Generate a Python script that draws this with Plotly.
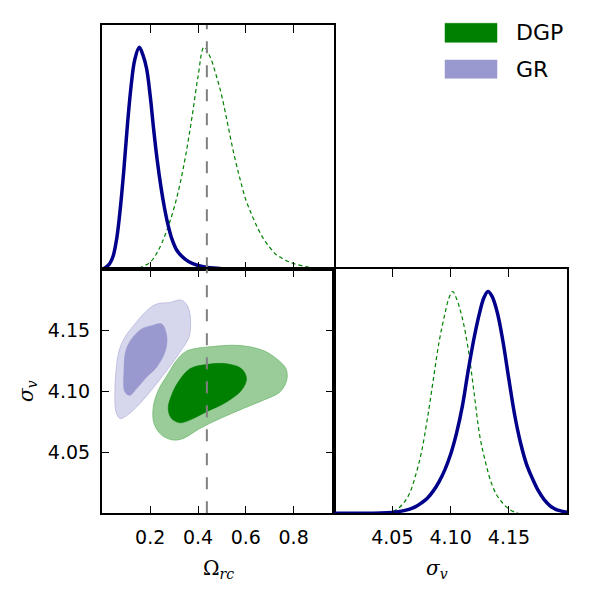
import plotly.graph_objects as go

# ---------------- data ----------------
# 1D marginal of Omega_rc (peak-normalised)
gr_om_x = [0.000, 0.015, 0.030, 0.045, 0.060, 0.075, 0.090, 0.105, 0.120, 0.135, 0.1541,
           0.170, 0.185, 0.200, 0.215, 0.230, 0.245, 0.260, 0.275, 0.290, 0.310, 0.330,
           0.360, 0.400, 0.440, 0.500, 0.600]
gr_om_p = [0.000, 0.010, 0.025, 0.060, 0.140, 0.276, 0.452, 0.655, 0.825, 0.942, 1.000,
           0.963, 0.903, 0.780, 0.624, 0.485, 0.370, 0.275, 0.198, 0.139, 0.088, 0.061,
           0.035, 0.017, 0.008, 0.003, 0.001]
dgp_om_x = [0.125, 0.150, 0.175, 0.200, 0.225, 0.250, 0.275, 0.300, 0.325, 0.350, 0.375,
            0.400, 0.425, 0.450, 0.475, 0.500, 0.525, 0.550, 0.575, 0.600, 0.625, 0.650,
            0.675, 0.700, 0.725, 0.750, 0.775, 0.800, 0.850, 0.900, 0.930]
dgp_om_p = [0.000, 0.005, 0.016, 0.032, 0.068, 0.122, 0.192, 0.277, 0.386, 0.523, 0.686,
            0.868, 1.000, 0.958, 0.877, 0.778, 0.649, 0.520, 0.410, 0.313, 0.245, 0.185,
            0.136, 0.099, 0.068, 0.051, 0.036, 0.026, 0.012, 0.004, 0.000]

# 1D marginal of sigma_v (peak-normalised)
gr_sv_x = [4.000, 4.020, 4.040, 4.050, 4.060, 4.065, 4.070, 4.075, 4.080, 4.085, 4.090,
           4.095, 4.100, 4.105, 4.110, 4.115, 4.120, 4.125, 4.1285, 4.132, 4.1355, 4.140,
           4.145, 4.150, 4.155, 4.160, 4.165, 4.170, 4.175, 4.180, 4.185, 4.190, 4.195, 4.200]
gr_sv_p = [0.000, 0.000, 0.001, 0.004, 0.012, 0.019, 0.030, 0.047, 0.068, 0.100, 0.142,
           0.196, 0.266, 0.360, 0.482, 0.642, 0.788, 0.908, 0.972, 1.000, 0.978, 0.905,
           0.770, 0.601, 0.440, 0.316, 0.222, 0.158, 0.103, 0.063, 0.035, 0.018, 0.010, 0.005]
dgp_sv_x = [4.045, 4.050, 4.055, 4.060, 4.065, 4.070, 4.075, 4.080, 4.085, 4.090, 4.095,
            4.0985, 4.1017, 4.105, 4.110, 4.115, 4.120, 4.125, 4.130, 4.135, 4.140, 4.145,
            4.150, 4.155, 4.158]
dgp_sv_p = [0.000, 0.006, 0.022, 0.048, 0.092, 0.172, 0.276, 0.425, 0.598, 0.770, 0.898,
            0.970, 1.000, 0.968, 0.880, 0.742, 0.547, 0.348, 0.228, 0.135, 0.078, 0.044,
            0.019, 0.005, 0.000]

# 2D contours (Omega_rc, sigma_v)
gr_outer_x = [0.227, 0.282, 0.331, 0.359, 0.369, 0.362, 0.324, 0.269, 0.199, 0.143,
              0.094, 0.073, 0.057, 0.052, 0.057, 0.070, 0.094, 0.136, 0.185]
gr_outer_y = [4.1715, 4.1728, 4.1747, 4.1688, 4.1552, 4.1443, 4.1321, 4.1171, 4.0995, 4.0872,
              4.0791, 4.0777, 4.0832, 4.0981, 4.1171, 4.1334, 4.1443, 4.1552, 4.1660]
gr_inner_x = [0.206, 0.248, 0.269, 0.264, 0.227, 0.185, 0.143, 0.115, 0.094, 0.090,
              0.098, 0.122, 0.164]
gr_inner_y = [4.1538, 4.1552, 4.1457, 4.1334, 4.1198, 4.1117, 4.1022, 4.0967, 4.0995, 4.1171,
              4.1334, 4.1429, 4.1511]
dgp_outer_x = [0.352, 0.464, 0.575, 0.673, 0.729, 0.768, 0.771, 0.743, 0.673, 0.589,
               0.492, 0.408, 0.338, 0.296, 0.248, 0.216, 0.213, 0.234, 0.275, 0.310]
dgp_outer_y = [4.1329, 4.1367, 4.1375, 4.1334, 4.1266, 4.1185, 4.1090, 4.0995, 4.0927, 4.0859,
               4.0777, 4.0696, 4.0614, 4.0601, 4.0641, 4.0736, 4.0872, 4.1008, 4.1144, 4.1253]
dgp_inner_x = [0.366, 0.436, 0.520, 0.582, 0.603, 0.582, 0.520, 0.436, 0.366, 0.324,
               0.289, 0.275, 0.289, 0.317]
dgp_inner_y = [4.1185, 4.1220, 4.1226, 4.1185, 4.1103, 4.1008, 4.0913, 4.0832, 4.0764, 4.0742,
               4.0777, 4.0859, 4.0967, 4.1076]

truth_omega = 0.437

om_ticks = [0.2, 0.4, 0.6, 0.8]
om_ticktext = ["0.2", "0.4", "0.6", "0.8"]
sv_ticks = [4.05, 4.10, 4.15]
sv_ticktext = ["4.05", "4.10", "4.15"]
legend_labels = ["DGP", "GR"]

# ---------------- styles ----------------
BLUE = "#00008b"
GREEN = "#008000"
GREEN_LIGHT = "#99cc99"
GR_DARK = "#9999d0"
GR_LIGHT = "#d6d6ec"
GRAY = "#808080"
FONT = "DejaVu Sans"

W, H = 593, 594
def px(x):
    return x / W
def py(y):
    return 1 - y / H

xd1 = [px(101.7), px(334.0)]
xd2 = [px(334.0), px(567.3)]
yd_top = [py(269.3), py(25.0)]
yd_bot = [py(513.3), py(269.3)]

om_range = [-0.003, 0.969]
sv_range = [4.0, 4.2]
p_range = [0, 1.1]

fig = go.Figure()

def closed(a):
    return list(a) + [a[0]]

# top-left: Omega marginals
fig.add_trace(go.Scatter(x=dgp_om_x, y=dgp_om_p, mode="lines", xaxis="x", yaxis="y",
                         line=dict(color=GREEN, width=1.2, dash="4px,3px", shape="spline", smoothing=1.0)))
fig.add_trace(go.Scatter(x=gr_om_x, y=gr_om_p, mode="lines", xaxis="x", yaxis="y",
                         line=dict(color=BLUE, width=3.5, shape="spline", smoothing=1.0)))
fig.add_trace(go.Scatter(x=[truth_omega, truth_omega], y=p_range, mode="lines", xaxis="x", yaxis="y",
                         line=dict(color=GRAY, width=2, dash="12px,12px")))

# bottom-left: 2D contours
fig.add_trace(go.Scatter(x=closed(gr_outer_x), y=closed(gr_outer_y), mode="lines", fill="toself",
                         fillcolor=GR_LIGHT, xaxis="x2", yaxis="y2",
                         line=dict(color="#b8b8dc", width=0.8, shape="spline", smoothing=1.0)))
fig.add_trace(go.Scatter(x=closed(gr_inner_x), y=closed(gr_inner_y), mode="lines", fill="toself",
                         fillcolor=GR_DARK, xaxis="x2", yaxis="y2",
                         line=dict(color=GR_DARK, width=0.5, shape="spline", smoothing=1.0)))
fig.add_trace(go.Scatter(x=closed(dgp_outer_x), y=closed(dgp_outer_y), mode="lines", fill="toself",
                         fillcolor=GREEN_LIGHT, xaxis="x2", yaxis="y2",
                         line=dict(color="#70b870", width=0.8, shape="spline", smoothing=1.0)))
fig.add_trace(go.Scatter(x=closed(dgp_inner_x), y=closed(dgp_inner_y), mode="lines", fill="toself",
                         fillcolor=GREEN, xaxis="x2", yaxis="y2",
                         line=dict(color=GREEN, width=0.5, shape="spline", smoothing=1.0)))
fig.add_trace(go.Scatter(x=[truth_omega, truth_omega], y=sv_range, mode="lines", xaxis="x2", yaxis="y2",
                         line=dict(color=GRAY, width=2, dash="12px,12px")))

# bottom-right: sigma_v marginals
fig.add_trace(go.Scatter(x=dgp_sv_x, y=dgp_sv_p, mode="lines", xaxis="x3", yaxis="y3",
                         line=dict(color=GREEN, width=1.2, dash="4px,3px", shape="spline", smoothing=1.0)))
fig.add_trace(go.Scatter(x=gr_sv_x, y=gr_sv_p, mode="lines", xaxis="x3", yaxis="y3",
                         line=dict(color=BLUE, width=3.5, shape="spline", smoothing=1.0)))

tickfont = dict(family=FONT, size=19, color="black")
common = dict(showline=True, linecolor="black", linewidth=1.5, mirror="allticks",
              ticks="inside", ticklen=8, tickwidth=1, tickcolor="black",
              showgrid=False, zeroline=False, tickfont=tickfont, ticklabelstandoff=6)

fig.update_layout(
    width=W, height=H, margin=dict(l=0, r=0, t=0, b=0),
    paper_bgcolor="white", plot_bgcolor="white", showlegend=False,
    xaxis=dict(domain=xd1, anchor="y", range=om_range, tickvals=om_ticks,
               showticklabels=False, **common),
    yaxis=dict(domain=yd_top, anchor="x", range=p_range, showline=True, linecolor="black",
               linewidth=1.5, mirror=True, ticks="", showticklabels=False,
               showgrid=False, zeroline=False),
    xaxis2=dict(domain=xd1, anchor="y2", range=om_range, tickvals=om_ticks,
                ticktext=om_ticktext, **common),
    yaxis2=dict(domain=yd_bot, anchor="x2", range=sv_range, tickvals=sv_ticks,
                ticktext=sv_ticktext, **common),
    xaxis3=dict(domain=xd2, anchor="y3", range=sv_range, tickvals=sv_ticks,
                ticktext=sv_ticktext, **common),
    yaxis3=dict(domain=yd_bot, anchor="x3", range=p_range, showline=True, linecolor="black",
                linewidth=1.5, mirror=True, ticks="", showticklabels=False,
                showgrid=False, zeroline=False),
)

# axis labels
mathfont = dict(family="DejaVu Serif", size=20, color="black")
fig.add_annotation(x=px(218), y=py(584), xref="paper", yref="paper", showarrow=False,
                   text="Ω<sub><i>rc</i></sub>", font=mathfont)
fig.add_annotation(x=px(450), y=py(584), xref="paper", yref="paper", showarrow=False,
                   text="<i>σ</i><sub><i>v</i></sub>", font=mathfont)
fig.add_annotation(x=px(12), y=py(391), xref="paper", yref="paper", showarrow=False,
                   text="<i>σ</i><sub><i>v</i></sub>", font=mathfont, textangle=-90)

# legend (manual, matplotlib-style patches)
leg_colors = [GREEN, GR_DARK]
leg_y = [(23.3, 42.3), (60.0, 78.3)]
for lab, col, (y0, y1) in zip(legend_labels, leg_colors, leg_y):
    fig.add_shape(type="rect", xref="paper", yref="paper", x0=px(445), x1=px(497),
                  y0=py(y1), y1=py(y0), fillcolor=col, line=dict(color=col, width=0.5))
    fig.add_annotation(x=px(514), y=py((y0 + y1) / 2), xref="paper", yref="paper",
                       xanchor="left", yanchor="middle", showarrow=False, text=lab,
                       font=dict(family=FONT, size=22, color="black"))

fig.write_html("out.html")
